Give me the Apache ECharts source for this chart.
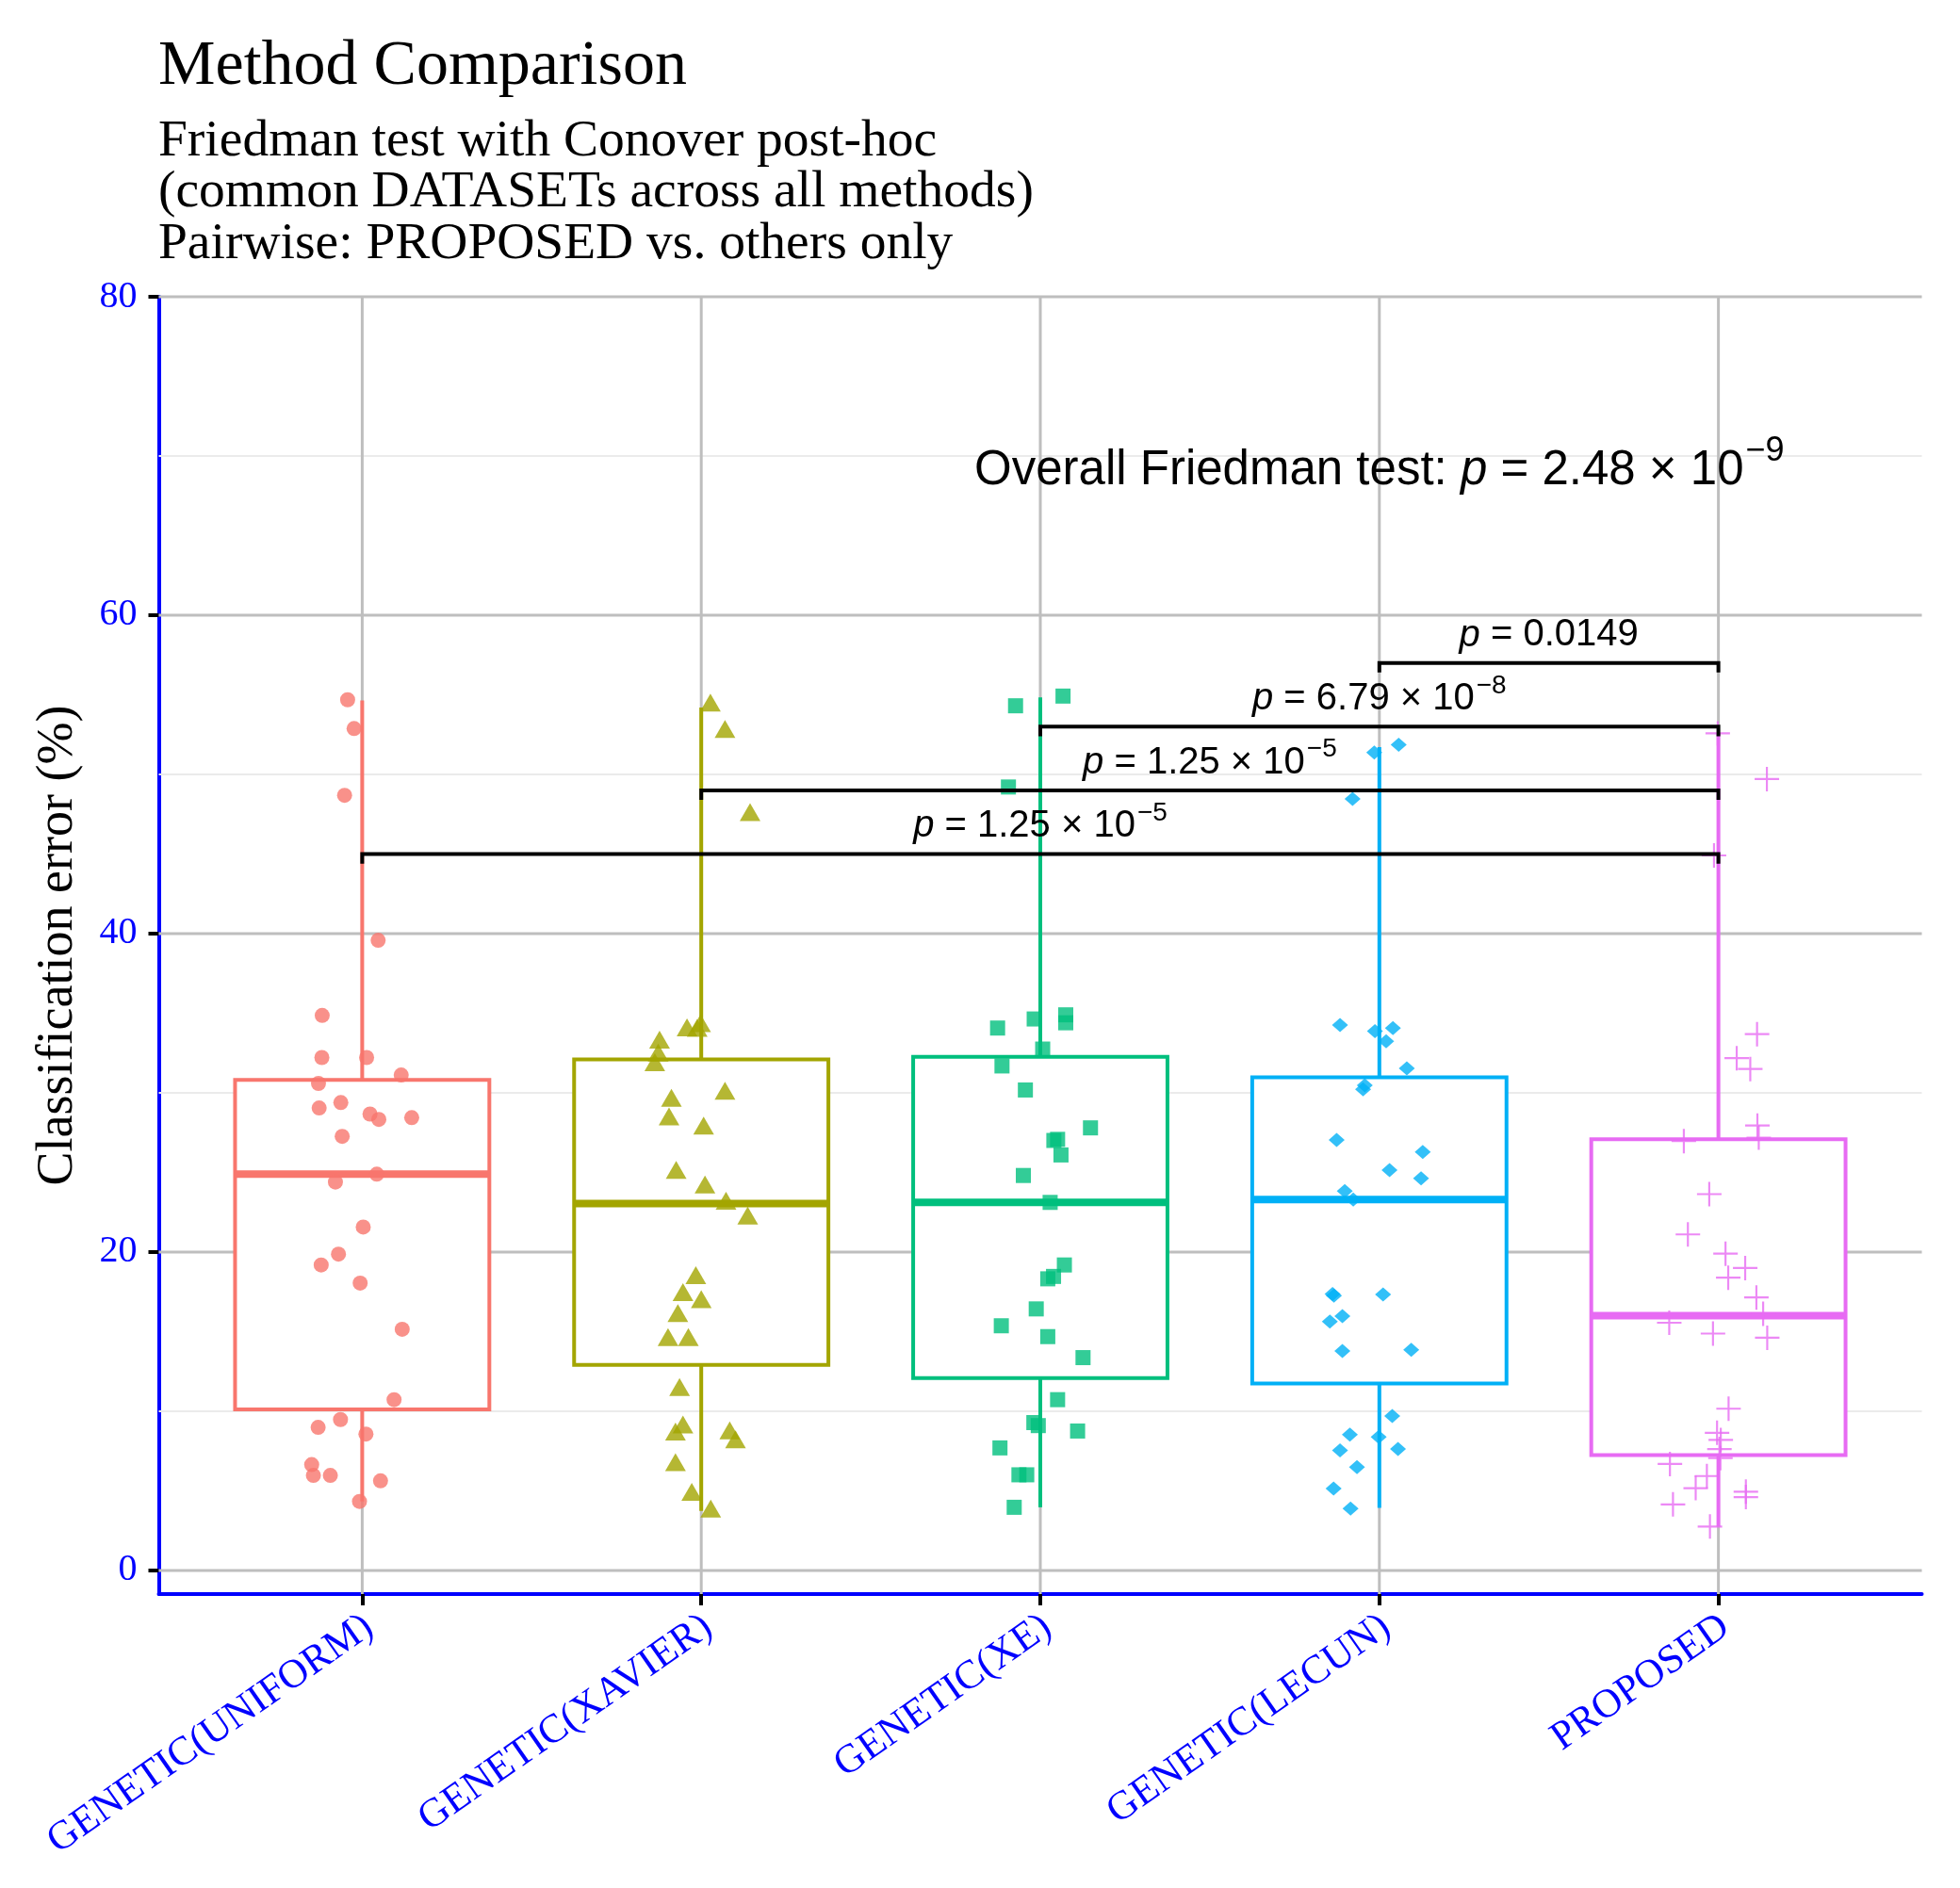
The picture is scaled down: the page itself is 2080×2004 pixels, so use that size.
<!DOCTYPE html>
<html><head><meta charset="utf-8">
<script src="https://cdn.jsdelivr.net/npm/echarts@6/dist/echarts.min.js"></script>
<style>html,body{margin:0;padding:0;background:#fff}#c{width:2080px;height:2004px}</style>
</head><body><div id="c"></div>
<script>
// ---------------- data ----------------
const categories = ['GENETIC(UNIFORM)', 'GENETIC(XAVIER)', 'GENETIC(XE)', 'GENETIC(LECUN)', 'PROPOSED'];
const groupColors = ['#F8766D', '#A3A500', '#00BF7D', '#00B0F6', '#E76BF3'];

const uniformVals = [54.69, 52.88, 48.69, 39.58, 34.86, 32.22, 32.22, 31.12, 30.59, 29.05, 29.39, 28.67, 28.33, 28.44, 27.27, 24.40, 24.89, 21.57, 19.87, 19.19, 18.05, 15.15, 10.73, 9.48, 8.99, 8.57, 6.65, 5.97, 5.97, 5.63, 4.34];
const uniformJit = [-0.043, -0.024, -0.052, 0.047, -0.118, -0.119, 0.013, 0.115, -0.129, -0.127, -0.063, 0.023, 0.049, 0.146, -0.059, -0.079, 0.043, 0.003, -0.070, -0.121, -0.006, 0.118, 0.094, -0.064, -0.130, 0.011, -0.149, -0.144, -0.094, 0.054, -0.008];

const xavierVals = [54.33, 52.68, 47.45, 33.93, 34.2, 33.9, 33.17, 32.35, 31.74, 29.51, 29.96, 28.34, 27.77, 24.98, 24.07, 23.05, 22.11, 18.37, 17.31, 16.86, 15.99, 14.48, 14.48, 11.34, 9.00, 8.55, 8.62, 8.06, 6.62, 4.77, 3.71];
const xavierJit = [0.027, 0.070, 0.144, -0.042, -0.002, -0.012, -0.123, -0.127, -0.137, -0.088, 0.070, -0.095, 0.007, -0.074, 0.011, 0.073, 0.137, -0.016, -0.054, 0, -0.069, -0.098, -0.038, -0.064, -0.054, -0.076, 0.084, 0.101, -0.076, -0.028, 0.028];

const xeVals = [54.31, 54.92, 49.21, 34.07, 34.64, 34.9, 34.4, 32.75, 31.69, 30.18, 27.80, 27.01, 27.08, 26.10, 24.81, 23.12, 19.19, 18.47, 18.32, 16.43, 15.37, 14.69, 13.37, 10.73, 9.29, 9.10, 8.76, 7.70, 6.01, 6.01, 3.97];
const xeJit = [-0.073, 0.067, -0.094, -0.126, -0.018, 0.075, 0.075, 0.007, -0.113, -0.044, 0.148, 0.040, 0.051, 0.061, -0.050, 0.029, 0.071, 0.039, 0.022, -0.012, -0.115, 0.022, 0.126, 0.051, -0.019, -0.006, 0.110, -0.119, -0.063, -0.040, -0.077];

const lecunVals = [51.86, 51.37, 48.46, 34.26, 33.88, 34.07, 33.24, 31.54, 30.48, 30.22, 27.04, 26.29, 25.15, 24.63, 23.83, 23.30, 17.37, 17.26, 17.34, 15.98, 15.64, 13.79, 13.86, 9.71, 8.54, 8.39, 7.55, 7.63, 6.50, 5.14, 3.89];
const lecunJit = [0.057, -0.015, -0.079, -0.116, -0.013, 0.040, 0.020, 0.081, -0.043, -0.048, -0.126, 0.128, 0.030, 0.123, -0.102, -0.077, -0.138, -0.134, 0.011, -0.109, -0.146, -0.109, 0.094, 0.038, -0.087, -0.002, -0.116, 0.055, -0.066, -0.135, -0.085];

const proposedVals = [52.58, 49.71, 44.91, 33.69, 32.18, 31.50, 27.95, 27.19, 26.97, 23.64, 21.11, 19.90, 19.00, 18.39, 17.15, 16.13, 15.56, 14.88, 14.62, 10.16, 8.65, 8.20, 7.63, 7.06, 6.69, 5.93, 5.17, 4.15, 4.95, 4.61, 2.76];
const proposedJit = [-0.002, 0.143, -0.013, 0.114, 0.054, 0.094, 0.115, 0.119, -0.102, -0.027, -0.090, 0.021, 0.079, 0.029, 0.112, 0.132, -0.145, -0.016, 0.144, 0.030, -0.004, 0.007, 0.003, 0.006, -0.143, -0.034, -0.067, -0.134, 0.081, 0.081, -0.025];

// box statistics (lower whisker, Q1, median, Q3, upper whisker)
const boxLow  = [4.34, 3.74, 3.97, 3.93, 2.76];
const boxQ1   = [10.12, 12.92, 12.09, 11.75, 7.25];
const boxMed  = [24.89, 23.04, 23.12, 23.30, 16.01];
const boxQ3   = [30.82, 32.10, 32.26, 30.97, 27.08];
const boxHigh = [54.65, 54.20, 54.84, 51.71, 52.58];

// pairwise brackets (PROPOSED vs others)
const bracketFrom = [1, 2, 3, 4];
const bracketTo   = [5, 5, 5, 5];
const bracketY    = [45, 49, 53, 57];
const bracketP    = ['1.25 × 10', '1.25 × 10', '6.79 × 10', '0.0149'];
const bracketExp  = ['−5', '−5', '−8', ''];

const friedmanX = 4;
const friedmanY = 67.55;
const friedmanP = '2.48 × 10';
const friedmanExp = '−9';

const yTicks = [0, 20, 40, 60, 80];
const yMinorTicks = [10, 30, 50, 70];
const xTicks = [1, 2, 3, 4, 5];

const titleText = 'Method Comparison';
const subtitleLines = ['Friedman test with Conover post-hoc', '(common DATASETs across all methods)', 'Pairwise: PROPOSED vs. others only'];
const yAxisTitle = 'Classification error (%)';

// ---------------- chart ----------------
const X_LIM = [0.4, 5.6];
const Y_LIM = [-1.48, 80];
const BOX_HALF = 0.375;
const TIP = 0.6;
const LABEL_LIFT = 0.55;

const groupVals = [uniformVals, xavierVals, xeVals, lecunVals, proposedVals];
const groupJit = [uniformJit, xavierJit, xeJit, lecunJit, proposedJit];
const plusPath = 'path://M11,0H13V24H11ZM0,11H24V13H0Z';
const symbols = ['circle', 'triangle', 'rect', 'diamond', plusPath];
const symbolSizes = [16, [22, 19], 16, [17, 15], 26];
const symbolOffsets = [[0, 0], [0, -3], [0, 0], [0, 0], [0, 0]];

function richFor(size, lift) {
  const sup = Math.round(size * 0.7);
  return {
    i: { fontStyle: 'italic', fontSize: size, fontFamily: 'Liberation Sans', lineHeight: size, verticalAlign: 'bottom', fill: '#000' },
    n: { fontSize: size, fontFamily: 'Liberation Sans', lineHeight: size, verticalAlign: 'bottom', fill: '#000' },
    s: { fontSize: sup, fontFamily: 'Liberation Sans', verticalAlign: 'top', padding: [0, 0, Math.round(size * lift), 2], fill: '#000' }
  };
}
function pText(val, exp, prefix) {
  return (prefix ? '{n|' + prefix + '}' : '') + '{i|p}{n| = ' + val + '}' + (exp ? '{s|' + exp + '}' : '');
}

const gridData = []
  .concat(yMinorTicks.map(v => [0, v]))
  .concat(yTicks.map(v => [1, v]))
  .concat(xTicks.map(v => [2, v]));

const gridSeries = {
  type: 'custom', name: 'grid', z: 1, silent: true,
  data: gridData,
  renderItem: function (params, api) {
    const kind = api.value(0), v = api.value(1);
    let p1, p2;
    if (kind < 2) { p1 = api.coord([X_LIM[0], v]); p2 = api.coord([X_LIM[1], v]); }
    else { p1 = api.coord([v, Y_LIM[0]]); p2 = api.coord([v, Y_LIM[1]]); }
    return {
      type: 'line',
      shape: { x1: p1[0], y1: p1[1], x2: p2[0], y2: p2[1] },
      style: { stroke: kind === 0 ? '#ebebeb' : '#bebebe', lineWidth: kind === 0 ? 2 : 3 }
    };
  }
};

const boxData = categories.map((c, i) => [i + 1, boxLow[i], boxQ1[i], boxMed[i], boxQ3[i], boxHigh[i], i]);
const boxSeries = {
  type: 'custom', name: 'box', z: 2, silent: true,
  data: boxData,
  renderItem: function (params, api) {
    const x = api.value(0);
    const col = groupColors[api.value(6)];
    const pLow = api.coord([x, api.value(1)]);
    const pQ1 = api.coord([x, api.value(2)]);
    const pMed = api.coord([x, api.value(3)]);
    const pQ3 = api.coord([x, api.value(4)]);
    const pHigh = api.coord([x, api.value(5)]);
    const hw = api.size([BOX_HALF, 0])[0];
    return {
      type: 'group',
      children: [
        { type: 'line', shape: { x1: pQ3[0], y1: pQ3[1], x2: pHigh[0], y2: pHigh[1] }, style: { stroke: col, lineWidth: 4 } },
        { type: 'line', shape: { x1: pQ1[0], y1: pQ1[1], x2: pLow[0], y2: pLow[1] }, style: { stroke: col, lineWidth: 4 } },
        { type: 'rect', shape: { x: pQ3[0] - hw, y: pQ3[1], width: 2 * hw, height: pQ1[1] - pQ3[1] }, style: { fill: '#fff', stroke: col, lineWidth: 4 } },
        { type: 'line', shape: { x1: pMed[0] - hw, y1: pMed[1], x2: pMed[0] + hw, y2: pMed[1] }, style: { stroke: col, lineWidth: 8 } }
      ]
    };
  }
};

const pointSeries = categories.map((c, g) => ({
  type: 'scatter', name: c, z: 3, silent: true,
  symbol: symbols[g], symbolSize: symbolSizes[g], symbolOffset: symbolOffsets[g],
  itemStyle: { color: groupColors[g], opacity: 0.8 },
  data: groupVals[g].map((v, i) => [g + 1 + groupJit[g][i], v])
}));

const bracketData = bracketY.map((y, i) => [bracketFrom[i], bracketTo[i], y, i]);
const bracketSeries = {
  type: 'custom', name: 'brackets', z: 4, silent: true,
  data: bracketData,
  renderItem: function (params, api) {
    const x1 = api.value(0), x2 = api.value(1), y = api.value(2), idx = api.value(3);
    const a = api.coord([x1, y - TIP]), b = api.coord([x1, y]), c = api.coord([x2, y]), d = api.coord([x2, y - TIP]);
    const lp = api.coord([(x1 + x2) / 2, y + LABEL_LIFT]);
    return {
      type: 'group',
      children: [
        { type: 'polyline', shape: { points: [a, b, c, d] }, style: { stroke: '#000', lineWidth: 4, fill: null, lineJoin: 'miter' } },
        { type: 'text', x: lp[0], y: lp[1], style: { text: pText(bracketP[idx], bracketExp[idx]), rich: richFor(40, 0.5), align: 'center', verticalAlign: 'bottom', fill: '#000', fontSize: 40, fontFamily: 'Liberation Sans' } }
      ]
    };
  }
};

const friedmanSeries = {
  type: 'custom', name: 'friedman', z: 5, silent: true,
  data: [[friedmanX, friedmanY]],
  renderItem: function (params, api) {
    const p = api.coord([api.value(0), api.value(1)]);
    return { type: 'text', x: p[0], y: p[1], style: { text: pText(friedmanP, friedmanExp, 'Overall Friedman test: '), rich: richFor(51, 0.55), align: 'center', verticalAlign: 'bottom', fill: '#000', fontSize: 51, fontFamily: 'Liberation Sans' } };
  }
};

const chart = echarts.init(document.getElementById('c'), null, { renderer: 'canvas', width: 2080, height: 2004 });
chart.setOption({
  animation: false,
  backgroundColor: '#ffffff',
  title: [
    { text: titleText, left: 168, top: 37, padding: 0, textStyle: { fontFamily: 'Liberation Serif', fontSize: 68, fontWeight: 'normal', color: '#000', lineHeight: 68 } },
    { text: subtitleLines.join('\n'), left: 168, top: 123, padding: 0, textStyle: { fontFamily: 'Liberation Serif', fontSize: 55.5, fontWeight: 'normal', color: '#000', lineHeight: 54.4 } }
  ],
  grid: { left: 168.5, right: 40.5, top: 315, bottom: 312, outerBoundsMode: 'none', containLabel: false },
  xAxis: {
    type: 'value', min: X_LIM[0], max: X_LIM[1],
    axisLine: { show: true, onZero: false, lineStyle: { color: '#0000ff', width: 4 } },
    axisTick: { show: true, customValues: xTicks, length: 12, lineStyle: { color: '#000', width: 4 } },
    axisLabel: {
      show: true, customValues: xTicks, rotate: 35, margin: 10,
      formatter: function (v) { return categories[Math.round(v) - 1]; },
      color: '#0000ff', fontFamily: 'Liberation Serif', fontSize: 43,
      align: 'right', verticalAlign: 'top', padding: [0, 6, 0, 0]
    },
    splitLine: { show: false }, minorSplitLine: { show: false }
  },
  yAxis: {
    type: 'value', min: Y_LIM[0], max: Y_LIM[1],
    axisLine: { show: true, lineStyle: { color: '#0000ff', width: 4 } },
    axisTick: { show: true, customValues: yTicks, length: 11, lineStyle: { color: '#000', width: 4 } },
    axisLabel: { show: true, customValues: yTicks, margin: 23, color: '#0000ff', fontFamily: 'Liberation Serif', fontSize: 40 },
    splitLine: { show: false },
    name: yAxisTitle, nameLocation: 'middle', nameRotate: 90, nameGap: 80,
    nameTextStyle: { fontFamily: 'Liberation Serif', fontSize: 54, color: '#000' }
  },
  series: [gridSeries, boxSeries].concat(pointSeries).concat([bracketSeries, friedmanSeries])
});
</script>
</body></html>
